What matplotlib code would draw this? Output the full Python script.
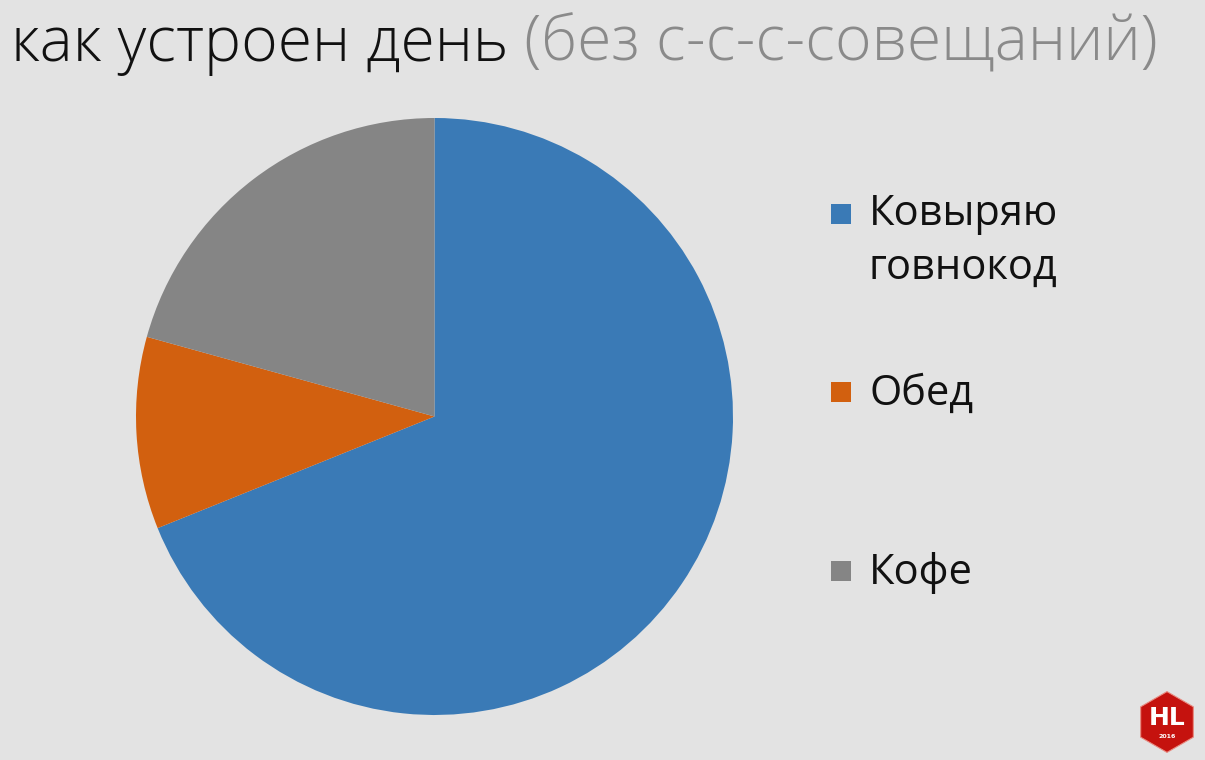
import matplotlib
matplotlib.use("Agg")
import matplotlib.pyplot as plt
from matplotlib.patches import Rectangle, RegularPolygon

labels = ["Ковыряю\nговнокод", "Обед", "Кофе"]
values = [68.9, 10.4, 20.7]
colors = ["#3a7ab6", "#d2600f", "#858585"]
title_main = "как устроен день"
title_sub = " (без с-с-с-совещаний)"

W, H = 1205, 760
BG = "#e3e3e3"
fig = plt.figure(figsize=(W / 100, H / 100), dpi=100, facecolor=BG)

# pie axes
cx, cy, r = 434.5, 416.5, 298.5
ax = fig.add_axes([(cx - r) / W, (H - cy - r) / H, 2 * r / W, 2 * r / H])
ax.set_facecolor(BG)
ax.pie(values, colors=colors, startangle=90, counterclock=False, radius=1.0,
       wedgeprops=dict(linewidth=0))
ax.set_xlim(-1, 1)
ax.set_ylim(-1, 1)
ax.set_aspect("auto")
ax.axis("off")

fam = ["Open Sans", "DejaVu Sans"]

# title
t1 = fig.text(11 / W, 1 - 61 / H, title_main, fontsize=45, family=fam,
              weight="light", color="#111111", va="baseline", ha="left")
fig.canvas.draw()
bb = t1.get_window_extent()
fig.text(bb.x1 / W, 1 - 61 / H, title_sub, fontsize=45, family=fam,
         weight="light", color="#8a8a8a", va="baseline", ha="left")

# legend
leg_y = [214, 392, 571]  # px centers of squares
gap = 52
for lab, col, y in zip(labels, colors, leg_y):
    fig.patches.append(Rectangle(((831) / W, 1 - (y + 10) / H), 20 / W, 20 / H,
                                 transform=fig.transFigure, facecolor=col,
                                 edgecolor="none"))
    nl = lab.count("\n")
    fig.text(869 / W, 1 - (y + 13 + nl * gap) / H, lab, fontsize=30, family=fam,
             color="#111111", va="baseline", ha="left", linespacing=1.38)

# HL logo
lx, ly = 1167, 722
logo_ax = fig.add_axes([(lx - 32) / W, (H - ly - 32) / H, 64 / W, 64 / H])
logo_ax.set_xlim(-1, 1)
logo_ax.set_ylim(-1, 1)
logo_ax.axis("off")
logo_ax.add_patch(RegularPolygon((0, 0), 6, radius=0.95, orientation=0,
                                 facecolor="#c5120e", edgecolor="#e88a80",
                                 linewidth=0.8))
logo_ax.text(0, 0.12, "HL", ha="center", va="center", color="white",
             fontsize=18, weight="bold", family=["DejaVu Sans"])
logo_ax.text(0, -0.45, "2016", ha="center", va="center", color="white",
             fontsize=4.5, weight="bold", family=["DejaVu Sans"])

fig.savefig("out.png", dpi=100, facecolor=BG)
